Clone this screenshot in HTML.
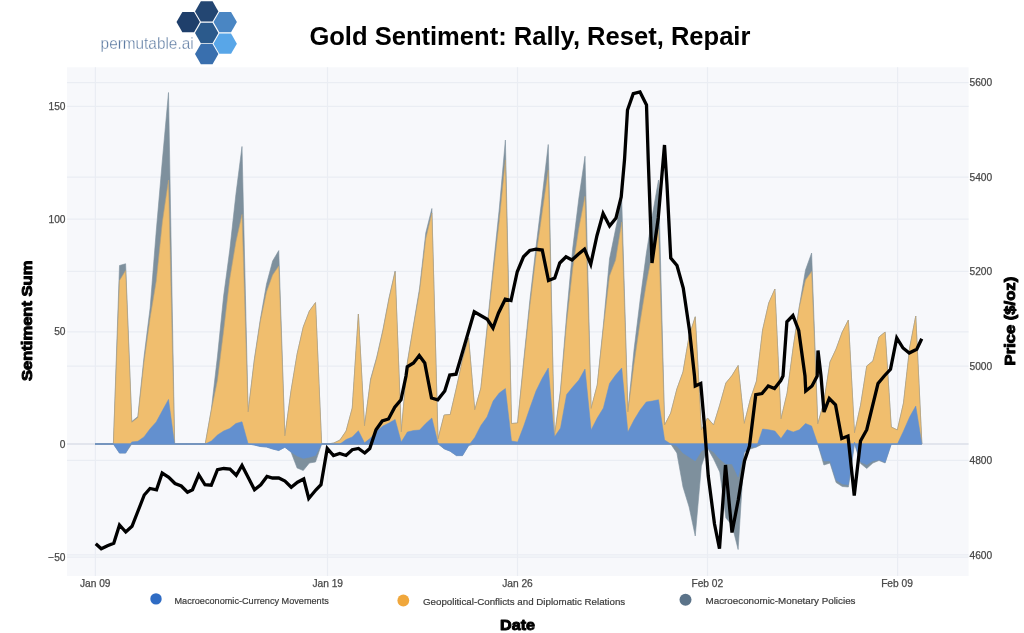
<!DOCTYPE html>
<html lang="en">
<head>
<meta charset="utf-8">
<title>Gold Sentiment: Rally, Reset, Repair</title>
<style>
html,body{margin:0;padding:0;background:#ffffff;}
body{width:1024px;height:633px;overflow:hidden;position:relative;font-family:"Liberation Sans",sans-serif;}
</style>
</head>
<body>
<svg width="1024" height="633" viewBox="0 0 1024 633" style="position:absolute;left:0;top:0;will-change:transform;font-family:'Liberation Sans',sans-serif">
<rect x="67" y="67.3" width="901.6" height="508.7" fill="#f7f8fb"/>
<line x1="67" x2="968.6" y1="82.5" y2="82.5" stroke="#eaedf3" stroke-width="1.25"/>
<line x1="67" x2="968.6" y1="106.25" y2="106.25" stroke="#eaedf3" stroke-width="1.25"/>
<line x1="67" x2="968.6" y1="177.2" y2="177.2" stroke="#eaedf3" stroke-width="1.25"/>
<line x1="67" x2="968.6" y1="219" y2="219" stroke="#eaedf3" stroke-width="1.25"/>
<line x1="67" x2="968.6" y1="271.3" y2="271.3" stroke="#eaedf3" stroke-width="1.25"/>
<line x1="67" x2="968.6" y1="331.8" y2="331.8" stroke="#eaedf3" stroke-width="1.25"/>
<line x1="67" x2="968.6" y1="366" y2="366" stroke="#eaedf3" stroke-width="1.25"/>
<line x1="67" x2="968.6" y1="460.3" y2="460.3" stroke="#eaedf3" stroke-width="1.25"/>
<line x1="67" x2="968.6" y1="554.9" y2="554.9" stroke="#eaedf3" stroke-width="1.25"/>
<line x1="67" x2="968.6" y1="557.0" y2="557.0" stroke="#eaedf3" stroke-width="1.25"/>
<line x1="95.4" x2="95.4" y1="67.3" y2="576" stroke="#eaedf3" stroke-width="1.25"/>
<line x1="327.5" x2="327.5" y1="67.3" y2="576" stroke="#eaedf3" stroke-width="1.25"/>
<line x1="517.5" x2="517.5" y1="67.3" y2="576" stroke="#eaedf3" stroke-width="1.25"/>
<line x1="707.5" x2="707.5" y1="67.3" y2="576" stroke="#eaedf3" stroke-width="1.25"/>
<line x1="897.6" x2="897.6" y1="67.3" y2="576" stroke="#eaedf3" stroke-width="1.25"/>
<line x1="67" x2="968.6" y1="444.0" y2="444.0" stroke="#dbdfe8" stroke-width="1.3"/>
<g stroke-linejoin="round">
<polygon points="95.00,444.00 95.00,444.00 101.12,444.00 107.25,444.00 113.38,444.00 119.50,265.50 125.62,263.75 131.75,421.50 137.88,416.50 144.00,357.00 150.12,308.00 156.25,231.00 162.38,160.00 168.50,92.50 174.62,444.00 180.75,444.00 186.88,444.00 193.00,444.00 199.12,444.00 205.25,444.00 211.38,409.00 217.50,356.00 223.62,296.00 229.75,250.00 235.88,194.50 242.00,146.50 248.12,412.00 254.25,360.00 260.38,319.00 266.50,284.00 272.62,261.00 278.75,250.60 284.88,436.00 291.00,391.00 297.12,354.00 303.25,327.00 309.38,311.00 315.50,302.60 321.62,444.00 327.75,444.00 333.88,443.00 340.00,440.00 346.12,431.00 352.25,408.00 358.38,314.00 364.50,426.00 370.62,379.00 376.75,357.00 382.88,330.00 389.00,298.00 395.12,271.00 401.25,432.00 407.38,362.00 413.50,325.00 419.62,288.00 425.75,233.00 431.88,208.50 438.00,439.00 444.12,415.00 450.25,414.50 456.38,388.00 462.50,360.00 468.62,338.00 474.75,410.00 480.88,388.00 487.00,328.00 493.12,268.00 499.25,209.00 505.38,140.00 511.50,423.50 517.62,423.00 523.75,360.00 529.88,300.00 536.00,247.00 542.12,197.00 548.25,144.50 554.38,437.00 560.50,390.00 566.62,315.00 572.75,248.00 578.88,198.00 585.00,156.25 591.12,408.50 597.25,385.00 603.38,325.00 609.50,259.00 615.62,229.00 621.75,200.00 627.88,412.00 634.00,350.00 640.12,300.00 646.25,254.00 652.38,215.00 658.50,180.00 664.62,425.00 670.75,413.00 676.88,389.00 683.00,372.00 689.12,336.00 695.25,316.75 701.38,430.00 707.50,418.00 713.62,425.00 719.75,405.00 725.88,383.00 732.00,375.50 738.12,365.50 744.25,423.50 750.38,399.00 756.50,381.00 762.62,330.00 768.75,303.00 774.88,289.00 781.00,419.00 787.12,393.00 793.25,347.00 799.38,306.00 805.50,270.00 811.62,253.00 817.75,424.00 823.88,402.00 830.00,362.00 836.12,349.00 842.25,332.00 848.38,320.00 854.50,433.00 860.62,405.00 866.75,366.00 872.88,361.00 879.00,337.00 885.12,332.00 891.25,427.00 897.38,430.00 903.50,403.00 909.62,348.00 915.75,316.00 921.88,444.00 921.88,444.00" fill="#7e909d" stroke="#7e909d" stroke-width="0.6"/>
<polygon points="95.00,444.00 95.00,444.00 101.12,444.00 107.25,444.00 113.38,444.00 119.50,453.10 125.62,453.10 131.75,444.00 137.88,444.00 144.00,444.00 150.12,444.00 156.25,444.00 162.38,444.00 168.50,444.00 174.62,444.00 180.75,444.00 186.88,444.00 193.00,444.00 199.12,444.00 205.25,444.00 211.38,444.00 217.50,444.00 223.62,444.00 229.75,444.00 235.88,444.00 242.00,444.00 248.12,444.00 254.25,445.00 260.38,446.50 266.50,447.00 272.62,449.00 278.75,450.50 284.88,447.25 291.00,452.00 297.12,468.00 303.25,470.50 309.38,463.00 315.50,462.00 321.62,444.00 327.75,444.00 333.88,444.00 340.00,444.00 346.12,444.00 352.25,444.00 358.38,444.00 364.50,444.00 370.62,444.00 376.75,444.00 382.88,444.00 389.00,444.00 395.12,444.00 401.25,444.00 407.38,444.00 413.50,444.00 419.62,444.00 425.75,444.00 431.88,444.00 438.00,444.00 444.12,448.75 450.25,451.25 456.38,455.60 462.50,455.60 468.62,445.50 474.75,444.00 480.88,444.00 487.00,444.00 493.12,444.00 499.25,444.00 505.38,444.00 511.50,444.00 517.62,444.00 523.75,444.00 529.88,444.00 536.00,444.00 542.12,444.00 548.25,444.00 554.38,444.00 560.50,444.00 566.62,444.00 572.75,444.00 578.88,444.00 585.00,444.00 591.12,444.00 597.25,444.00 603.38,444.00 609.50,444.00 615.62,444.00 621.75,444.00 627.88,444.00 634.00,444.00 640.12,444.00 646.25,444.00 652.38,444.00 658.50,444.00 664.62,444.00 670.75,444.00 676.88,453.00 683.00,487.00 689.12,507.00 695.25,536.00 701.38,466.00 707.50,448.00 713.62,459.00 719.75,472.00 725.88,518.00 732.00,525.00 738.12,549.50 744.25,452.00 750.38,449.00 756.50,447.00 762.62,444.00 768.75,444.00 774.88,444.00 781.00,444.00 787.12,444.00 793.25,444.00 799.38,444.00 805.50,444.00 811.62,444.00 817.75,444.00 823.88,465.00 830.00,463.00 836.12,482.50 842.25,486.50 848.38,487.00 854.50,444.00 860.62,463.50 866.75,468.50 872.88,463.00 879.00,460.50 885.12,463.00 891.25,444.00 897.38,444.00 903.50,444.00 909.62,444.00 915.75,444.00 921.88,444.00 921.88,444.00" fill="#7e909d" stroke="#7e909d" stroke-width="0.6"/>
<polygon points="95.00,444.00 95.00,444.00 101.12,444.00 107.25,444.00 113.38,444.00 119.50,280.50 125.62,270.50 131.75,422.25 137.88,417.50 144.00,362.00 150.12,318.00 156.25,281.00 162.38,222.00 168.50,180.00 174.62,444.00 180.75,444.00 186.88,444.00 193.00,444.00 199.12,444.00 205.25,444.00 211.38,410.00 217.50,380.00 223.62,331.00 229.75,279.00 235.88,242.00 242.00,214.40 248.12,412.00 254.25,361.00 260.38,321.00 266.50,292.00 272.62,275.00 278.75,266.00 284.88,436.00 291.00,391.00 297.12,354.00 303.25,327.00 309.38,311.00 315.50,302.60 321.62,444.00 327.75,444.00 333.88,443.00 340.00,440.00 346.12,431.00 352.25,408.00 358.38,314.00 364.50,426.00 370.62,380.00 376.75,358.00 382.88,331.00 389.00,299.00 395.12,271.75 401.25,432.00 407.38,363.00 413.50,326.00 419.62,291.00 425.75,239.00 431.88,213.00 438.00,439.00 444.12,415.00 450.25,414.50 456.38,388.00 462.50,360.00 468.62,338.00 474.75,410.00 480.88,388.00 487.00,331.00 493.12,274.00 499.25,221.00 505.38,160.00 511.50,423.50 517.62,423.00 523.75,363.00 529.88,306.00 536.00,256.00 542.12,213.00 548.25,170.00 554.38,437.00 560.50,392.00 566.62,323.00 572.75,268.00 578.88,228.00 585.00,196.25 591.12,408.50 597.25,385.00 603.38,328.00 609.50,276.00 615.62,260.00 621.75,222.00 627.88,412.00 634.00,364.00 640.12,322.00 646.25,284.00 652.38,252.00 658.50,229.00 664.62,425.00 670.75,413.00 676.88,389.00 683.00,372.00 689.12,336.00 695.25,316.75 701.38,430.00 707.50,418.00 713.62,425.00 719.75,405.00 725.88,383.00 732.00,375.50 738.12,365.50 744.25,423.50 750.38,399.00 756.50,381.00 762.62,330.00 768.75,303.00 774.88,289.00 781.00,419.00 787.12,393.00 793.25,347.00 799.38,307.00 805.50,280.00 811.62,271.50 817.75,424.00 823.88,402.00 830.00,362.00 836.12,349.00 842.25,332.00 848.38,320.00 854.50,433.00 860.62,405.00 866.75,366.00 872.88,361.00 879.00,337.00 885.12,332.00 891.25,427.00 897.38,430.00 903.50,403.00 909.62,348.00 915.75,316.00 921.88,444.00 921.88,444.00" fill="#f0be6e" stroke="#b9a27a" stroke-width="0.6"/>
<polygon points="95.00,444.00 95.00,444.00 101.12,444.00 107.25,444.00 113.38,444.00 119.50,453.10 125.62,453.10 131.75,441.90 137.88,441.25 144.00,436.90 150.12,428.75 156.25,421.90 162.38,410.60 168.50,399.40 174.62,444.00 180.75,444.00 186.88,444.00 193.00,444.00 199.12,444.00 205.25,444.00 211.38,441.00 217.50,435.00 223.62,431.00 229.75,428.50 235.88,423.50 242.00,421.75 248.12,443.75 254.25,445.00 260.38,446.50 266.50,447.00 272.62,449.00 278.75,450.50 284.88,447.25 291.00,452.00 297.12,456.00 303.25,458.50 309.38,457.25 315.50,455.50 321.62,444.00 327.75,444.00 333.88,444.00 340.00,444.00 346.12,439.50 352.25,437.00 358.38,430.70 364.50,442.80 370.62,438.00 376.75,431.00 382.88,426.00 389.00,423.00 395.12,419.40 401.25,442.00 407.38,432.00 413.50,430.50 419.62,430.00 425.75,423.50 431.88,418.00 438.00,443.00 444.12,448.75 450.25,451.25 456.38,455.60 462.50,455.60 468.62,445.50 474.75,437.50 480.88,425.50 487.00,417.00 493.12,401.00 499.25,393.00 505.38,388.50 511.50,441.00 517.62,442.00 523.75,426.00 529.88,408.00 536.00,391.00 542.12,378.50 548.25,368.00 554.38,437.00 560.50,428.00 566.62,394.50 572.75,387.00 578.88,380.00 585.00,369.00 591.12,430.00 597.25,418.00 603.38,408.00 609.50,383.50 615.62,375.00 621.75,368.00 627.88,432.00 634.00,420.00 640.12,410.00 646.25,402.00 652.38,401.00 658.50,399.75 664.62,440.00 670.75,444.00 676.88,446.00 683.00,453.00 689.12,457.00 695.25,461.00 701.38,451.00 707.50,448.00 713.62,452.00 719.75,459.00 725.88,464.00 732.00,464.00 738.12,477.00 744.25,452.00 750.38,447.00 756.50,447.00 762.62,429.00 768.75,429.75 774.88,431.00 781.00,438.50 787.12,429.75 793.25,432.00 799.38,429.75 805.50,423.50 811.62,426.00 817.75,444.00 823.88,461.00 830.00,461.00 836.12,480.00 842.25,484.00 848.38,484.75 854.50,442.00 860.62,462.00 866.75,464.75 872.88,461.00 879.00,459.75 885.12,462.25 891.25,444.00 897.38,444.00 903.50,431.00 909.62,417.00 915.75,406.00 921.88,444.00 921.88,444.00" fill="#6390cf" stroke="#6390cf" stroke-width="0.5"/>
</g>
<line x1="95" x2="921.5" y1="444.0" y2="444.0" stroke="#6390cf" stroke-width="1.2"/>
<polyline points="95.75,543.75 101.25,548.75 107.50,545.75 113.75,543.25 119.50,525.00 125.75,532.00 132.00,526.25 138.20,510.50 144.25,495.00 150.00,488.50 156.50,489.75 162.20,473.00 168.75,477.25 175.00,483.50 181.25,486.00 187.50,492.25 192.50,489.75 198.75,474.75 205.00,484.75 211.25,485.25 217.50,469.75 223.75,468.50 230.00,469.00 236.25,475.25 242.00,465.50 248.75,478.50 254.50,489.75 260.75,484.75 267.00,476.50 272.50,478.00 278.75,478.00 285.00,481.00 291.25,487.25 297.50,482.25 303.75,479.00 308.75,498.50 316.00,489.75 321.00,484.75 327.25,448.50 333.50,455.50 339.75,453.50 346.00,455.50 352.25,449.75 358.50,448.50 364.75,453.00 369.75,448.50 376.00,429.75 382.25,421.00 388.50,419.00 394.75,407.25 401.00,399.75 406.00,376.00 407.25,366.75 413.50,363.00 419.25,355.50 424.75,363.00 427.25,376.00 431.50,398.00 437.75,399.75 444.75,391.00 449.75,375.00 456.00,374.25 462.25,353.00 474.25,311.75 487.25,319.25 493.00,328.00 498.50,313.00 505.25,299.25 511.00,300.50 517.25,271.75 523.50,256.75 529.75,250.50 536.00,249.25 542.25,250.00 548.50,280.50 554.75,278.00 559.75,263.00 566.00,256.75 572.00,260.00 578.25,254.25 584.50,249.25 590.75,264.25 597.00,235.50 603.10,213.50 609.60,226.00 616.00,218.00 621.20,197.00 624.50,160.00 627.50,110.00 633.25,93.75 640.00,92.00 646.50,105.00 648.25,160.00 652.00,263.00 658.25,218.00 664.50,145.00 667.00,185.00 670.75,258.00 677.00,265.50 683.25,288.00 689.50,330.50 694.50,376.00 695.25,386.00 700.75,383.50 704.50,426.00 708.25,476.00 714.50,524.00 719.50,548.75 725.50,465.00 732.00,532.50 738.25,500.00 744.50,461.00 749.50,446.00 755.75,394.75 762.00,393.50 768.25,386.00 774.50,388.50 780.75,380.50 783.00,376.00 786.90,321.75 792.90,315.50 798.70,330.50 805.00,376.00 805.75,391.00 812.00,386.00 817.20,376.00 818.00,350.50 821.00,376.00 824.00,412.00 829.25,398.50 835.50,404.75 841.75,438.50 848.00,436.00 854.25,495.50 860.50,441.00 866.75,429.75 878.00,383.50 884.25,376.00 890.50,369.25 896.75,338.00 903.00,348.00 909.25,353.00 916.75,349.25 921.75,338.75" fill="none" stroke="#ffffff" stroke-width="4.2" stroke-linejoin="round" stroke-linecap="round" opacity="0"/>
<polyline points="95.75,543.75 101.25,548.75 107.50,545.75 113.75,543.25 119.50,525.00 125.75,532.00 132.00,526.25 138.20,510.50 144.25,495.00 150.00,488.50 156.50,489.75 162.20,473.00 168.75,477.25 175.00,483.50 181.25,486.00 187.50,492.25 192.50,489.75 198.75,474.75 205.00,484.75 211.25,485.25 217.50,469.75 223.75,468.50 230.00,469.00 236.25,475.25 242.00,465.50 248.75,478.50 254.50,489.75 260.75,484.75 267.00,476.50 272.50,478.00 278.75,478.00 285.00,481.00 291.25,487.25 297.50,482.25 303.75,479.00 308.75,498.50 316.00,489.75 321.00,484.75 327.25,448.50 333.50,455.50 339.75,453.50 346.00,455.50 352.25,449.75 358.50,448.50 364.75,453.00 369.75,448.50 376.00,429.75 382.25,421.00 388.50,419.00 394.75,407.25 401.00,399.75 406.00,376.00 407.25,366.75 413.50,363.00 419.25,355.50 424.75,363.00 427.25,376.00 431.50,398.00 437.75,399.75 444.75,391.00 449.75,375.00 456.00,374.25 462.25,353.00 474.25,311.75 487.25,319.25 493.00,328.00 498.50,313.00 505.25,299.25 511.00,300.50 517.25,271.75 523.50,256.75 529.75,250.50 536.00,249.25 542.25,250.00 548.50,280.50 554.75,278.00 559.75,263.00 566.00,256.75 572.00,260.00 578.25,254.25 584.50,249.25 590.75,264.25 597.00,235.50 603.10,213.50 609.60,226.00 616.00,218.00 621.20,197.00 624.50,160.00 627.50,110.00 633.25,93.75 640.00,92.00 646.50,105.00 648.25,160.00 652.00,263.00 658.25,218.00 664.50,145.00 667.00,185.00 670.75,258.00 677.00,265.50 683.25,288.00 689.50,330.50 694.50,376.00 695.25,386.00 700.75,383.50 704.50,426.00 708.25,476.00 714.50,524.00 719.50,548.75 725.50,465.00 732.00,532.50 738.25,500.00 744.50,461.00 749.50,446.00 755.75,394.75 762.00,393.50 768.25,386.00 774.50,388.50 780.75,380.50 783.00,376.00 786.90,321.75 792.90,315.50 798.70,330.50 805.00,376.00 805.75,391.00 812.00,386.00 817.20,376.00 818.00,350.50 821.00,376.00 824.00,412.00 829.25,398.50 835.50,404.75 841.75,438.50 848.00,436.00 854.25,495.50 860.50,441.00 866.75,429.75 878.00,383.50 884.25,376.00 890.50,369.25 896.75,338.00 903.00,348.00 909.25,353.00 916.75,349.25 921.75,338.75" fill="none" stroke="#000000" stroke-width="3.3" stroke-linejoin="miter" stroke-linecap="butt"/>
<text x="65.5" y="109.85" font-size="10.2" text-anchor="end" fill="#484848" stroke="#484848" stroke-width="0.25">150</text>
<text x="65.5" y="222.6" font-size="10.2" text-anchor="end" fill="#484848" stroke="#484848" stroke-width="0.25">100</text>
<text x="65.5" y="335.40000000000003" font-size="10.2" text-anchor="end" fill="#484848" stroke="#484848" stroke-width="0.25">50</text>
<text x="65.5" y="448.1" font-size="10.2" text-anchor="end" fill="#484848" stroke="#484848" stroke-width="0.25">0</text>
<text x="65.5" y="560.6" font-size="10.2" text-anchor="end" fill="#484848" stroke="#484848" stroke-width="0.25">−50</text>
<text x="969.5" y="86.1" font-size="10.2" text-anchor="start" fill="#484848" stroke="#484848" stroke-width="0.25">5600</text>
<text x="969.5" y="180.79999999999998" font-size="10.2" text-anchor="start" fill="#484848" stroke="#484848" stroke-width="0.25">5400</text>
<text x="969.5" y="274.90000000000003" font-size="10.2" text-anchor="start" fill="#484848" stroke="#484848" stroke-width="0.25">5200</text>
<text x="969.5" y="369.6" font-size="10.2" text-anchor="start" fill="#484848" stroke="#484848" stroke-width="0.25">5000</text>
<text x="969.5" y="463.90000000000003" font-size="10.2" text-anchor="start" fill="#484848" stroke="#484848" stroke-width="0.25">4800</text>
<text x="969.5" y="558.8000000000001" font-size="10.2" text-anchor="start" fill="#484848" stroke="#484848" stroke-width="0.25">4600</text>
<text x="95.2" y="587.3" font-size="10.2" text-anchor="middle" fill="#484848" stroke="#484848" stroke-width="0.25">Jan 09</text>
<text x="327.7" y="587.3" font-size="10.2" text-anchor="middle" fill="#484848" stroke="#484848" stroke-width="0.25">Jan 19</text>
<text x="517.5" y="587.3" font-size="10.2" text-anchor="middle" fill="#484848" stroke="#484848" stroke-width="0.25">Jan 26</text>
<text x="707.3" y="587.3" font-size="10.2" text-anchor="middle" fill="#484848" stroke="#484848" stroke-width="0.25">Feb 02</text>
<text x="897" y="587.3" font-size="10.2" text-anchor="middle" fill="#484848" stroke="#484848" stroke-width="0.25">Feb 09</text>
<circle cx="156" cy="598.9" r="5.7" fill="#2f6cc4"/>
<text x="174.5" y="604.3" font-size="9.9" textLength="154.3" lengthAdjust="spacingAndGlyphs" fill="#3a3a3a" stroke="#3a3a3a" stroke-width="0.2">Macroeconomic-Currency Movements</text>
<circle cx="403.3" cy="600.5" r="5.9" fill="#f0a73c"/>
<text x="423" y="605.4" font-size="9.9" textLength="202.2" lengthAdjust="spacingAndGlyphs" fill="#3a3a3a" stroke="#3a3a3a" stroke-width="0.2">Geopolitical-Conflicts and Diplomatic Relations</text>
<circle cx="685.5" cy="599.8" r="6" fill="#5b7389"/>
<text x="705.5" y="604.3" font-size="9.9" textLength="150" lengthAdjust="spacingAndGlyphs" fill="#3a3a3a" stroke="#3a3a3a" stroke-width="0.2">Macroeconomic-Monetary Policies</text>
<text x="517.6" y="629.6" font-size="14.8" text-anchor="middle" textLength="35" lengthAdjust="spacingAndGlyphs" font-weight="bold" fill="#000" stroke="#000" stroke-width="0.95" stroke-linejoin="round">Date</text>
<text transform="translate(31.9,320.8) rotate(-90)" font-size="14.8" text-anchor="middle" textLength="120.5" lengthAdjust="spacingAndGlyphs" font-weight="bold" fill="#000" stroke="#000" stroke-width="0.95" stroke-linejoin="round">Sentiment Sum</text>
<text transform="translate(1014.6,321.1) rotate(-90)" font-size="14.8" text-anchor="middle" textLength="88.6" lengthAdjust="spacingAndGlyphs" font-weight="bold" fill="#000" stroke="#000" stroke-width="0.95" stroke-linejoin="round">Price ($/oz)</text>
<text x="309.4" y="45.0" font-size="25.5" font-weight="bold" textLength="441" lengthAdjust="spacingAndGlyphs" fill="#000">Gold Sentiment: Rally, Reset, Repair</text>
<polygon points="195.00,11.40 200.85,1.25 212.55,1.25 218.40,11.40 212.55,21.55 200.85,21.55" fill="#234672"/>
<polygon points="176.50,22.10 182.35,11.95 194.05,11.95 199.90,22.10 194.05,32.25 182.35,32.25" fill="#1f3f6b"/>
<polygon points="213.50,22.10 219.35,11.95 231.05,11.95 236.90,22.10 231.05,32.25 219.35,32.25" fill="#4a86c3"/>
<polygon points="195.00,33.00 200.85,22.85 212.55,22.85 218.40,33.00 212.55,43.15 200.85,43.15" fill="#2b5a8c"/>
<polygon points="213.50,43.70 219.35,33.55 231.05,33.55 236.90,43.70 231.05,53.85 219.35,53.85" fill="#58a6e8"/>
<polygon points="195.00,54.10 200.85,43.95 212.55,43.95 218.40,54.10 212.55,64.25 200.85,64.25" fill="#396fae"/>
<text x="100.6" y="48.7" font-size="15.6" textLength="93" lengthAdjust="spacingAndGlyphs" fill="#5d7ba2" stroke="#ffffff" stroke-width="0.3">permutable.ai</text>
</svg>
</body>
</html>
